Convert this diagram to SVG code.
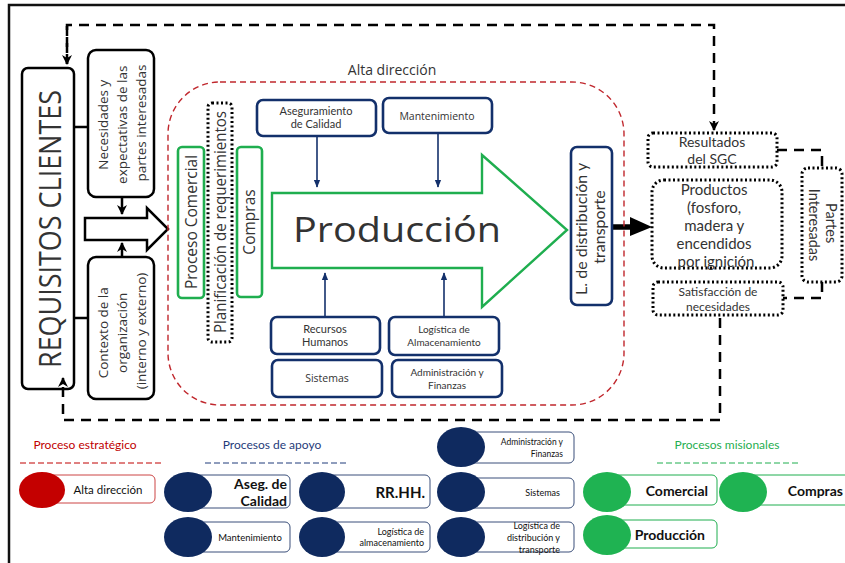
<svg xmlns="http://www.w3.org/2000/svg" width="845" height="563" viewBox="0 0 845 563">
  <style>
    .t { font-family: "Open Sans", "Liberation Sans", sans-serif; fill: #333; }
    .tl { font-family: "Lato", "Liberation Sans", sans-serif; fill: #333; }
    .blk { fill: none; stroke: #000; stroke-width: 2.5; }
    .navy { fill: #fff; stroke: #13306b; stroke-width: 2.6; }
    .green { fill: #fff; stroke: #1fae4f; stroke-width: 2.6; }
    .dot { fill: #fff; stroke: #000; stroke-width: 3; stroke-dasharray: 2 2.5; }
    .dash { fill: none; stroke: #000; stroke-width: 2.5; stroke-dasharray: 10 7; }
    .link { fill: none; stroke: #13306b; stroke-width: 1.6; }
    .cn { fill: #0f2a5f; }
    .cg { fill: #1fb352; }
    .cr { fill: #c40000; }
    .lb-n { fill: #fff; stroke: #3a4f7a; stroke-width: 1; }
    .lb-g { fill: #fff; stroke: #1fae4f; stroke-width: 1; }
    .lb-r { fill: #fff; stroke: #c44; stroke-width: 1; }
    .lg { font-family: "Lato", "Liberation Sans", sans-serif; fill: #111; }
  </style>
  <defs>
    <marker id="ahNavy" viewBox="0 0 10 10" refX="9" refY="5" markerWidth="5" markerHeight="5" orient="auto">
      <path d="M0,1 L10,5 L0,9 z" fill="#13306b"/>
    </marker>
    <marker id="ahBlk" viewBox="0 0 10 10" refX="9" refY="5" markerWidth="4" markerHeight="4" orient="auto">
      <path d="M0,0 L10,5 L0,10 L3,5 z" fill="#000"/>
    </marker>
  </defs>

  <rect width="845" height="563" fill="#fff"/>
  <!-- outer frame -->
  <path d="M9,563 V5 H845" fill="none" stroke="#111" stroke-width="2.5"/>

  <!-- connectors -->
  <g id="connectors">
    <path class="dash" d="M67,64 V25 H714 V130" marker-end="url(#ahBlk)"/>
    <path d="M67,26 V64" fill="none" stroke="#000" stroke-width="2.5" stroke-dasharray="10 7" marker-end="url(#ahBlk)"/>
    <path class="dash" d="M720,318 V420 H63 V378" marker-end="url(#ahBlk)"/>
    <path class="dash" d="M777,150 H822 V168"/>
    <path class="dash" d="M822,282 V298 H783"/>
    <path class="blk" d="M75,127 H88"/>
    <path class="blk" d="M75,318 H88"/>
    <path class="blk" d="M122,197 V214" marker-end="url(#ahBlk)"/>
    <path class="blk" d="M122,257 V243" marker-end="url(#ahBlk)"/>
    <path class="link" d="M317,136 V187" marker-end="url(#ahNavy)"/>
    <path class="link" d="M438,133 V187" marker-end="url(#ahNavy)"/>
    <path class="link" d="M325,317 V273" marker-end="url(#ahNavy)"/>
    <path class="link" d="M444,317 V273" marker-end="url(#ahNavy)"/>
    <path d="M612,227 H632" stroke="#000" stroke-width="5.5" fill="none"/>
    <path d="M630,217 L652,227 L630,236 z" fill="#000"/>
  </g>

  <!-- hollow input arrow -->
  <g id="input-arrow">
    <path d="M85,218 H147 V208 L168,229 L147,250 V240 H85 z" fill="#fff" stroke="#000" stroke-width="2.5" stroke-linejoin="miter"/>
  </g>

  <g id="requisitos">
    <rect x="22" y="68" width="52" height="321" rx="6" class="blk" fill="#fff"/>
    <text class="t" transform="translate(49,229) rotate(-90)" text-anchor="middle" dominant-baseline="central" font-size="31" fill="#222" textLength="278" lengthAdjust="spacingAndGlyphs">REQUISITOS CLIENTES</text>
  </g>

  <g id="necesidades">
    <rect x="88" y="50" width="66" height="147" rx="8" class="blk" fill="#fff"/>
    <text class="t" transform="translate(121,123) rotate(-90)" text-anchor="middle" font-size="13.5">
      <tspan x="0" y="-13">Necesidades y</tspan>
      <tspan x="0" y="6">expectativas de las</tspan>
      <tspan x="0" y="25">partes interesadas</tspan>
    </text>
  </g>

  <g id="contexto">
    <rect x="88" y="257" width="66" height="142" rx="8" class="blk" fill="#fff"/>
    <text class="t" transform="translate(121,331) rotate(-90)" text-anchor="middle" font-size="13.5">
      <tspan x="0" y="-13">Contexto de la</tspan>
      <tspan x="0" y="6">organización</tspan>
      <tspan x="0" y="25">(interno y externo)</tspan>
    </text>
  </g>

  <g id="alta-direccion">
    <rect x="168" y="82" width="456" height="323" rx="52" fill="none" stroke="#c0272d" stroke-width="1.4" stroke-dasharray="6 4"/>
    <text class="t" x="392" y="75" text-anchor="middle" font-size="14">Alta dirección</text>
  </g>

  <g id="proceso-comercial">
    <rect x="178" y="147" width="26" height="151" rx="4" class="green"/>
    <text class="t" transform="translate(191,222) rotate(-90)" text-anchor="middle" dominant-baseline="central" font-size="15.5">Proceso Comercial</text>
  </g>

  <g id="planificacion">
    <rect x="208" y="103" width="24" height="239" rx="4" class="dot"/>
    <text class="t" transform="translate(220,222) rotate(-90)" text-anchor="middle" dominant-baseline="central" font-size="15.5" textLength="222" lengthAdjust="spacingAndGlyphs">Planificación de requerimientos</text>
  </g>

  <g id="compras">
    <rect x="237" y="147" width="25" height="150" rx="4" class="green"/>
    <text class="t" transform="translate(249,222) rotate(-90)" text-anchor="middle" dominant-baseline="central" font-size="15.5">Compras</text>
  </g>

  <g id="produccion">
    <path d="M272,193 H482 V155 L567,230 L482,307 V268 H272 z" fill="#fff" stroke="#1fae4f" stroke-width="2.4"/>
    <text class="t" x="397" y="242" text-anchor="middle" font-size="35" fill="#111" textLength="208" lengthAdjust="spacingAndGlyphs">Producción</text>
  </g>

  <g id="aseguramiento">
    <rect x="257" y="100" width="119" height="36" rx="6" class="navy"/>
    <text class="tl" text-anchor="middle" font-size="11"><tspan x="316" y="115">Aseguramiento</tspan><tspan x="316" y="128">de Calidad</tspan></text>
  </g>

  <g id="mantenimiento">
    <rect x="383" y="98" width="109" height="35" rx="6" class="navy"/>
    <text class="t" x="437" y="120" text-anchor="middle" font-size="10.5">Mantenimiento</text>
  </g>

  <g id="recursos-humanos">
    <rect x="271" y="317" width="109" height="37" rx="6" class="navy"/>
    <text class="tl" text-anchor="middle" font-size="11"><tspan x="325" y="333">Recursos</tspan><tspan x="325" y="346">Humanos</tspan></text>
  </g>

  <g id="logistica-almacenamiento">
    <rect x="389" y="317" width="110" height="38" rx="6" class="navy"/>
    <text class="tl" text-anchor="middle" font-size="10"><tspan x="444" y="333">Logística de</tspan><tspan x="444" y="345.5">Almacenamiento</tspan></text>
  </g>

  <g id="sistemas">
    <rect x="272" y="360" width="110" height="37" rx="6" class="navy"/>
    <text class="t" x="327" y="382" text-anchor="middle" font-size="10.5">Sistemas</text>
  </g>

  <g id="administracion">
    <rect x="392" y="360" width="110" height="37" rx="6" class="navy"/>
    <text class="tl" text-anchor="middle" font-size="10"><tspan x="447" y="376">Administración  y</tspan><tspan x="447" y="388.5">Finanzas</tspan></text>
  </g>

  <g id="distribucion">
    <rect x="571" y="147" width="41" height="158" rx="6" class="navy"/>
    <text class="tl" transform="translate(591,227) rotate(-90)" text-anchor="middle" font-size="16">
      <tspan x="0" y="-4">L. de distribución y</tspan>
      <tspan x="0" y="14">transporte</tspan>
    </text>
  </g>

  <g id="resultados">
    <rect x="648" y="133" width="129" height="34" rx="5" class="dot"/>
    <text class="tl" text-anchor="middle" font-size="14"><tspan x="712" y="147">Resultados</tspan><tspan x="712" y="164">del SGC</tspan></text>
  </g>

  <g id="productos">
    <rect x="652" y="180" width="130" height="88" rx="12" class="dot"/>
    <text class="tl" text-anchor="middle" font-size="15">
      <tspan x="716" y="195">Productos</tspan>
      <tspan x="716" y="213">(fosforo,</tspan>
      <tspan x="716" y="231">madera y</tspan>
      <tspan x="716" y="249">encendidos</tspan>
      <tspan x="716" y="267">por ignición</tspan>
    </text>
  </g>

  <g id="satisfaccion">
    <rect x="653" y="282" width="130" height="33" rx="5" class="dot"/>
    <text class="tl" text-anchor="middle" font-size="12"><tspan x="718" y="296">Satisfacción de</tspan><tspan x="718" y="310.5">necesidades</tspan></text>
  </g>

  <g id="partes-interesadas">
    <rect x="802" y="168" width="40" height="114" rx="6" class="dot"/>
    <text class="tl" transform="translate(822,225) rotate(90)" text-anchor="middle" font-size="14.5">
      <tspan x="0" y="-4">Partes</tspan>
      <tspan x="0" y="13">Interesadas</tspan>
    </text>
  </g>

  <!-- legend -->
  <g id="legend-estrategico">
    <text x="85" y="449" text-anchor="middle" font-family="Lato, 'Liberation Sans', sans-serif" font-size="12" fill="#c00000">Proceso estratégico</text>
    <line x1="20" y1="463" x2="163" y2="463" stroke="#c00000" stroke-width="1" stroke-dasharray="6 3"/>
    <rect x="42" y="475" width="113" height="28" rx="5" class="lb-r"/>
    <ellipse cx="42" cy="490" rx="23" ry="18" class="cr"/>
    <text class="lg" x="108" y="494" text-anchor="middle" font-size="11.5">Alta dirección</text>
  </g>

  <g id="legend-apoyo">
    <text x="272" y="449" text-anchor="middle" font-family="Lato, 'Liberation Sans', sans-serif" font-size="12" fill="#1f3b7a">Procesos de apoyo</text>
    <line x1="205" y1="463" x2="347" y2="463" stroke="#1f3b7a" stroke-width="1" stroke-dasharray="6 3"/>
  </g>

  <g id="legend-aseg">
    <rect x="188" y="475" width="102" height="33" rx="5" class="lb-n"/>
    <ellipse cx="188" cy="492" rx="24" ry="20" class="cn"/>
    <text class="lg" text-anchor="end" font-size="14" font-weight="bold"><tspan x="287" y="489">Aseg. de</tspan><tspan x="287" y="506">Calidad</tspan></text>
  </g>
  <g id="legend-rrhh">
    <rect x="322" y="475" width="108" height="33" rx="5" class="lb-n"/>
    <ellipse cx="322" cy="492" rx="23" ry="20" class="cn"/>
    <text class="lg" x="425" y="498" text-anchor="end" font-size="15" font-weight="bold">RR.HH.</text>
  </g>
  <g id="legend-mant">
    <rect x="188" y="522" width="102" height="30" rx="5" class="lb-n"/>
    <ellipse cx="188" cy="537" rx="24" ry="20" class="cn"/>
    <text class="lg" x="250" y="541" text-anchor="middle" font-size="9.5">Mantenimiento</text>
  </g>
  <g id="legend-log-alm">
    <rect x="322" y="522" width="108" height="30" rx="5" class="lb-n"/>
    <ellipse cx="322" cy="537" rx="23" ry="20" class="cn"/>
    <text class="lg" text-anchor="end" font-size="9"><tspan x="424" y="535">Logística de</tspan><tspan x="424" y="546">almacenamiento</tspan></text>
  </g>
  <g id="legend-admin">
    <rect x="461" y="432" width="113" height="31" rx="5" class="lb-n"/>
    <ellipse cx="461" cy="447" rx="24" ry="20" class="cn"/>
    <text class="lg" text-anchor="end" font-size="8.5"><tspan x="563" y="445">Administración  y</tspan><tspan x="563" y="457">Finanzas</tspan></text>
  </g>
  <g id="legend-sistemas">
    <rect x="461" y="478" width="113" height="30" rx="5" class="lb-n"/>
    <ellipse cx="461" cy="492" rx="24" ry="20" class="cn"/>
    <text class="lg" x="560" y="496" text-anchor="end" font-size="9">Sistemas</text>
  </g>
  <g id="legend-log-dist">
    <rect x="461" y="522" width="113" height="30" rx="5" class="lb-n"/>
    <ellipse cx="461" cy="537" rx="24" ry="20" class="cn"/>
    <text class="lg" text-anchor="end" font-size="9"><tspan x="560" y="529">Logística de</tspan><tspan x="560" y="541">distribución  y</tspan><tspan x="560" y="553">transporte</tspan></text>
  </g>

  <g id="legend-misionales">
    <text x="727" y="449" text-anchor="middle" font-family="Lato, 'Liberation Sans', sans-serif" font-size="12" fill="#1fae4f">Procesos misionales</text>
    <line x1="657" y1="463" x2="800" y2="463" stroke="#1fae4f" stroke-width="1" stroke-dasharray="6 3"/>
  </g>
  <g id="legend-comercial">
    <rect x="607" y="475" width="110" height="30" rx="5" class="lb-g"/>
    <ellipse cx="607" cy="492" rx="24" ry="20" class="cg"/>
    <text class="lg" x="708" y="496" text-anchor="end" font-size="14" font-weight="bold">Comercial</text>
  </g>
  <g id="legend-compras">
    <rect x="743" y="475" width="110" height="30" rx="5" class="lb-g"/>
    <ellipse cx="743" cy="492" rx="24" ry="20" class="cg"/>
    <text class="lg" x="843" y="496" text-anchor="end" font-size="14" font-weight="bold">Compras</text>
  </g>
  <g id="legend-produccion">
    <rect x="607" y="520" width="110" height="28" rx="5" class="lb-g"/>
    <ellipse cx="607" cy="535" rx="24" ry="20" class="cg"/>
    <text class="lg" x="705" y="540" text-anchor="end" font-size="14" font-weight="bold">Producción</text>
  </g>
</svg>
